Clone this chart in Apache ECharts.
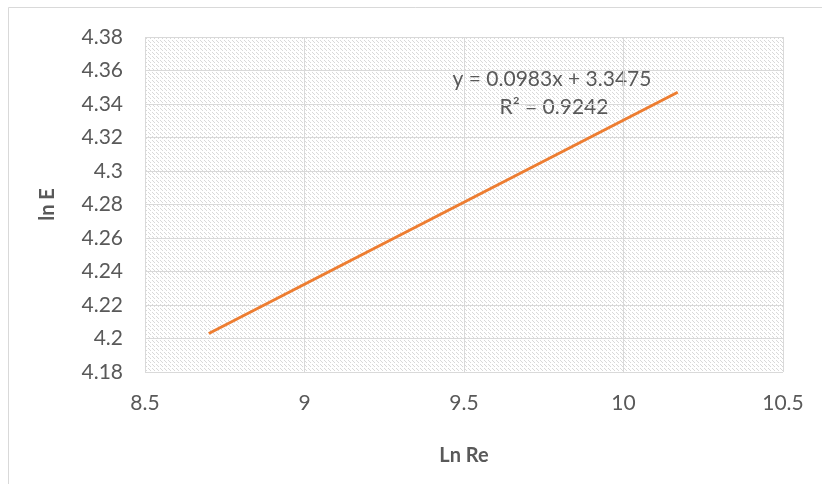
<!DOCTYPE html>
<html>
<head>
<meta charset="utf-8">
<script src="https://cdn.jsdelivr.net/npm/echarts@6/dist/echarts.min.js"></script>
<style>
  html, body { margin: 0; padding: 0; background: #fff; }
  #chart { width: 822px; height: 484px; }
</style>
</head>
<body>
<div id="chart"></div>
<script>
// Fitted ln(E) against ln(Re)
const lnRe = [8.70, 10.17];
const lnE = [4.203, 4.347];
const equationText = 'y = 0.0983x + 3.3475';
const r2Text = 'R² = 0.9242';
const xTitle = 'Ln Re';
const yTitle = 'ln E';

// Small tile of light diagonal dashes used to fill the plot area
function hatchTile() {
  const c = document.createElement('canvas');
  c.width = 8; c.height = 8;
  const g = c.getContext('2d');
  g.fillStyle = '#ffffff';
  g.fillRect(0, 0, 8, 8);
  g.fillStyle = '#d9d9d9';
  for (let i = 0; i < 8; i++) {
    if (i % 4 === 3) continue;
    g.fillRect(i, i, 1, 1);
    g.fillRect((i + 4) % 8, i, 1, 1);
  }
  return c;
}

const FONT = 'Lato, "Open Sans", sans-serif';
const chart = echarts.init(document.getElementById('chart'), null, { renderer: 'canvas' });

chart.setOption({
  animation: false,
  backgroundColor: '#ffffff',
  grid: {
    left: 145, right: 39, top: 37, bottom: 112,
    show: true,
    borderWidth: 0,
    backgroundColor: { image: hatchTile(), repeat: 'repeat' }
  },
  xAxis: {
    type: 'value',
    min: 8.5, max: 10.5, interval: 0.5,
    name: xTitle,
    nameLocation: 'middle',
    nameGap: 74,
    nameTextStyle: { color: '#595959', fontSize: 20, fontWeight: 'bold', fontFamily: FONT },
    axisLine: { show: false },
    axisTick: { show: false },
    axisLabel: { color: '#595959', fontSize: 21, fontFamily: FONT, margin: 21 },
    splitLine: { show: true, lineStyle: { color: '#d9d9d9', width: 1 } }
  },
  yAxis: {
    type: 'value',
    min: 4.18, max: 4.38, interval: 0.02,
    name: yTitle,
    nameLocation: 'middle',
    nameGap: 87,
    nameRotate: 90,
    nameTextStyle: { color: '#595959', fontSize: 20, fontWeight: 'bold', fontFamily: FONT },
    axisLine: { show: false },
    axisTick: { show: false },
    axisLabel: {
      color: '#595959', fontSize: 21, fontFamily: FONT, margin: 22,
      formatter: v => String(parseFloat(v.toFixed(2)))
    },
    splitLine: { show: true, lineStyle: { color: '#d9d9d9', width: 1 } }
  },
  series: [{
    type: 'line',
    data: lnRe.map((x, i) => [x, lnE[i]]),
    showSymbol: false,
    lineStyle: { color: '#ed7d31', width: 3 },
    itemStyle: { color: '#ed7d31' }
  }],
  graphic: [
    {
      type: 'rect',
      shape: { x: 8.5, y: 7.5, width: 820, height: 490 },
      style: { fill: 'none', stroke: '#d9d9d9', lineWidth: 1 },
      silent: true, z: -1
    },
    {
      type: 'text',
      x: 552, y: 79,
      style: { text: equationText, fill: '#595959', fontSize: 21, fontFamily: FONT, align: 'center', verticalAlign: 'middle' }
    },
    {
      type: 'text',
      x: 554, y: 107,
      style: { text: r2Text, fill: '#595959', fontSize: 21, fontFamily: FONT, align: 'center', verticalAlign: 'middle' }
    }
  ]
});
</script>
</body>
</html>
